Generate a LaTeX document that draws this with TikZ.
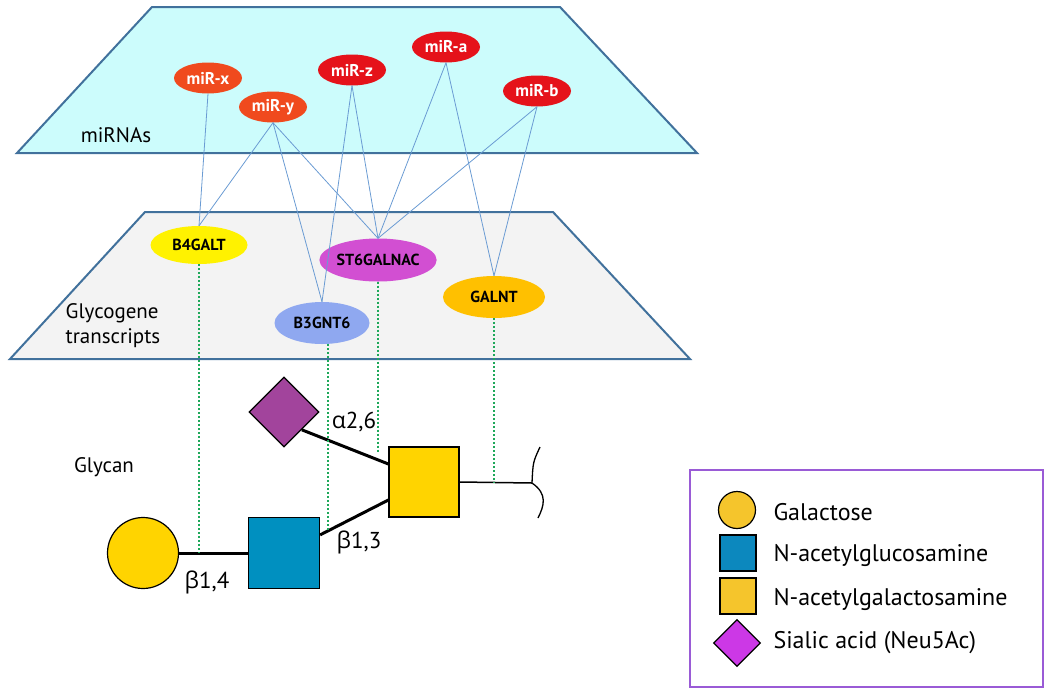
\documentclass[tikz,border=0pt]{standalone}
\usepackage{fontspec}
\setmainfont{PT Sans}
\newfontfamily\grk{Open Sans}
\usetikzlibrary{shapes.geometric,calc}
\definecolor{planeedge}{HTML}{41719C}
\definecolor{planecyan}{HTML}{CCFCFC}
\definecolor{planegray}{HTML}{F3F3F3}
\definecolor{linkblue}{HTML}{6A9BD3}
\definecolor{dotgreen}{HTML}{1EA85A}
\definecolor{mirorange}{HTML}{F04A1E}
\definecolor{mirred}{HTML}{E5121A}
\definecolor{genepink}{HTML}{D24FD2}
\definecolor{geneblue}{HTML}{8FA8F0}
\definecolor{geneorange}{HTML}{FFC000}
\definecolor{galyellow}{HTML}{FFD400}
\definecolor{glcblue}{HTML}{0090C0}
\definecolor{siapurple}{HTML}{A2449C}
\definecolor{legyellow}{HTML}{F5C52C}
\definecolor{legblue}{HTML}{0C88BE}
\definecolor{legpurple}{HTML}{CC38E6}
\definecolor{boxpurple}{HTML}{9A5BD6}
\begin{document}
\begin{tikzpicture}[x=1pt, y=-1pt,
  mir/.style={ellipse, fill=#1, text=white, font=\fontsize{17}{17}\selectfont\bfseries, minimum width=68pt, minimum height=31pt, inner sep=0pt},
  gene/.style={ellipse, fill=#1, font=\fontsize{16}{16}\selectfont\bfseries, minimum width=97pt, minimum height=38pt, inner sep=0pt},
  hit/.style={draw=linkblue, line width=0.8pt},
  trace/.style={draw=dotgreen, dotted, line width=2pt},
  bond/.style={line width=3pt},
  sugar/.style={draw, line width=1.2pt, inner sep=0pt},
  lbl/.style={font=\fontsize{21}{25}\selectfont, align=left},
  legtext/.style={font=\fontsize{24}{24}\selectfont, anchor=west}]
\useasboundingbox (0,0) rectangle (1050,694);
\draw[planeedge, line width=2pt, fill=planecyan] (152,7) -- (560,7) -- (697,153) -- (17,153) -- cycle;
\draw[planeedge, line width=2pt, fill=planegray] (145,212) -- (553,212) -- (690,359) -- (10,359) -- cycle;
\node[lbl] (mirnas) at (116,135) {miRNAs};
\node[lbl] (transcripts) at (113,326) {Glycogene\\transcripts};
\node[lbl] (glycan) at (104,467) {Glycan};

\node[mir=mirorange] (mirx) at (208,78) {miR-x};
\node[mir=mirorange] (miry) at (273,107) {miR-y};
\node[mir=mirred] (mirz) at (352,70) {miR-z};
\node[mir=mirred] (mira) at (446,47) {miR-a};
\node[mir=mirred] (mirb) at (537,91) {miR-b};

\node[gene=yellow] (b4galt) at (199,245) {B4GALT};
\node[gene=genepink, minimum width=112pt, minimum height=43pt] (st6galnac) at (378,260) {ST6GALNAC};
\node[gene=geneblue, minimum width=95pt, minimum height=42pt] (b3gnt6) at (322,323) {B3GNT6};
\node[gene=geneorange, minimum width=102pt, minimum height=42pt] (galnt) at (494,297) {GALNT};

\draw[hit] (mirx.south) -- (b4galt.north);
\draw[hit] (miry.south) -- (b4galt.north);
\draw[hit] (miry.south) -- (b3gnt6.north);
\draw[hit] (miry.south) -- (st6galnac.north);
\draw[hit] (mirz.south) -- (b3gnt6.north);
\draw[hit] (mirz.south) -- (st6galnac.north);
\draw[hit] (mira.south) -- (st6galnac.north);
\draw[hit] (mira.south) -- (galnt.north);
\draw[hit] (mirb.south) -- (st6galnac.north);
\draw[hit] (mirb.south) -- (galnt.north);

\node[sugar, circle, fill=galyellow, minimum size=71pt] (gal) at (143,553) {};
\node[sugar, rectangle, fill=glcblue, minimum size=71pt] (glcnac) at (284,553) {};
\node[sugar, rectangle, fill=galyellow, minimum size=70pt] (galnac) at (424,482) {};
\node[sugar, diamond, fill=siapurple, minimum size=70pt] (sia) at (284,412) {};
\coordinate (stemend) at (532,483);

\draw[bond] (gal) -- (glcnac);
\draw[bond] ($(glcnac.north east)+(0,18)$) -- ($(galnac.west)+(0,18)$);
\draw[bond] (sia.south east) -- ($(galnac.west)+(0,-18)$);
\draw[line width=1.5pt] (galnac.east) -- (stemend);
\draw[line width=1.3pt] (540,447) .. controls (533,462) .. (stemend) .. controls (548,494) and (544,506) .. (538,518);

\node[font=\fontsize{23}{23}\selectfont] (b14) at (207,582) {{\grk β}1,4};
\node[font=\fontsize{23}{23}\selectfont] (b13) at (359,542) {{\grk β}1,3};
\node[font=\fontsize{23}{23}\selectfont] (a26) at (354,422) {{\grk α}2,6};

\coordinate (t1) at (b4galt.south |- gal.east);
\coordinate (t2) at ($(b3gnt6.south |- galnac.west)+(6,50)$);
\coordinate (t3) at ($(st6galnac.south |- galnac.west)+(0,-29)$);
\coordinate (t4) at (galnt.south |- stemend);
\draw[trace] ($(b3gnt6.south)+(6,0)$) -- (t2);
\draw[trace] (b4galt.south) -- (t1);
\draw[trace] (st6galnac.south) -- (t3);
\draw[trace] (galnt.south) -- (t4);

\draw[boxpurple, line width=1.5pt] (690,470) rectangle (1043,687);
\node[sugar, circle, fill=legyellow, minimum size=37pt] (kgal) at (737,510) {};
\node[sugar, rectangle, fill=legblue, minimum size=36pt] (kglc) at (738,553) {};
\node[sugar, rectangle, fill=legyellow, minimum size=36pt] (kgalnac) at (738,596) {};
\node[sugar, diamond, fill=legpurple, minimum size=47pt] (ksia) at (737,643) {};
\node[legtext] (tgal) at (770,512) {Galactose};
\node[legtext] (tglc) at (770,556) {N-acetylglucosamine};
\node[legtext] (tgalnac) at (770,600) {N-acetylgalactosamine};
\node[legtext] (tsia) at (770,643) {Sialic acid (Neu5Ac)};
\end{tikzpicture}
\end{document}
